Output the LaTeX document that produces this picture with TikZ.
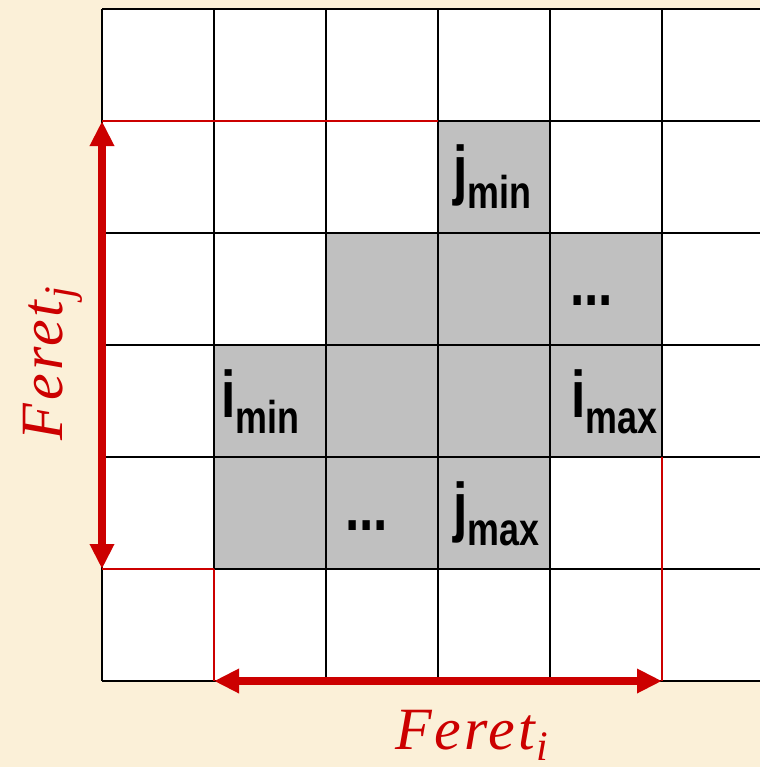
\documentclass[tikz,border=0pt]{standalone}
\usepackage{fontspec}
\setmainfont{Liberation Serif}
\newfontfamily\cellfont[FakeStretch=0.78]{Liberation Sans}
\newfontfamily\feretfont[LetterSpace=5]{Liberation Serif}
\usetikzlibrary{arrows.meta}
\definecolor{parch}{RGB}{251,240,216}
\definecolor{ferred}{RGB}{204,0,0}
\definecolor{cellgray}{RGB}{192,192,192}
\newcommand\celllab[2]{\cellfont\bfseries{\fontsize{33}{33}\selectfont #1}\raisebox{-8pt}{\fontsize{23}{23}\selectfont #2}}
\newcommand\feretlab[1]{{\feretfont\fontsize{30}{30}\selectfont\itshape Feret}\hspace{1pt}\raisebox{-5.5pt}{\fontsize{21}{21}\selectfont\itshape #1}}
\tikzset{
  gridline/.style={line width=1.25pt, black},
  redline/.style={line width=1pt, ferred},
  graycell/.style={fill=cellgray},
  celltext/.style={anchor=base west, inner sep=0pt, outer sep=0pt},
  feretarrow/.style={line width=4pt, ferred, {Triangle[length=12.5pt,width=11.5pt]}-{Triangle[length=12.5pt,width=11.5pt]}},
  feretlabel/.style={inner sep=0pt, outer sep=0pt, text=ferred}
}
\begin{document}
\begin{tikzpicture}[x=0.5pt,y=-0.5pt]
\useasboundingbox (0,0) rectangle (760,767);
\fill[parch] (0,0) rectangle (760,767);
\begin{scope}
\clip (0,0) rectangle (760,767);
\fill[white] (102,9) rectangle (774,681);
% gray cells
\fill[graycell] (438,121) rectangle (550,233);
\fill[graycell] (326,233) rectangle (662,345);
\fill[graycell] (214,345) rectangle (662,457);
\fill[graycell] (214,457) rectangle (550,569);
% horizontal grid lines
\draw[gridline] (102,9) -- (774,9);
\draw[gridline] (438,121) -- (774,121);
\draw[gridline] (102,233) -- (774,233);
\draw[gridline] (102,345) -- (774,345);
\draw[gridline] (102,457) -- (774,457);
\draw[gridline] (214,569) -- (774,569);
\draw[gridline] (102,681) -- (774,681);
% vertical grid lines
\draw[gridline] (102,9) -- (102,681);
\draw[gridline] (214,9) -- (214,569);
\draw[gridline] (326,9) -- (326,681);
\draw[gridline] (438,9) -- (438,681);
\draw[gridline] (550,9) -- (550,681);
\draw[gridline] (662,9) -- (662,457);
\draw[gridline] (774,9) -- (774,681);
% red bounding lines
\draw[redline] (102,121) -- (438,121);
\draw[redline] (102,569) -- (214,569);
\draw[redline] (214,569) -- (214,681);
\draw[redline] (662,457) -- (662,681);
\end{scope}
% cell labels
\node[celltext] (jmin) at (453,192) {\celllab{j}{min}};
\node[celltext] (imin) at (221,417) {\celllab{i}{min}};
\node[celltext] (imax) at (571,417) {\celllab{i}{max}};
\node[celltext] (jmax) at (453,529) {\celllab{j}{max}};
\node[celltext] (dotsa) at (570,305) {\cellfont\bfseries\fontsize{33}{33}\selectfont ...};
\node[celltext] (dotsb) at (345,530) {\cellfont\bfseries\fontsize{33}{33}\selectfont ...};
% arrows
\coordinate (vtop) at (102,121);
\coordinate (vbot) at (102,569);
\coordinate (hleft) at (214,681);
\coordinate (hright) at (662,681);
\draw[feretarrow] (vtop) -- (vbot);
\draw[feretarrow] (hleft) -- (hright);
% Feret labels
\node[feretlabel, anchor=base west] (feri) at (395,749) {\feretlab{i}};
\node[feretlabel, anchor=base west, rotate=90] (ferj) at (62,440) {\feretlab{j}};
\end{tikzpicture}
\end{document}
